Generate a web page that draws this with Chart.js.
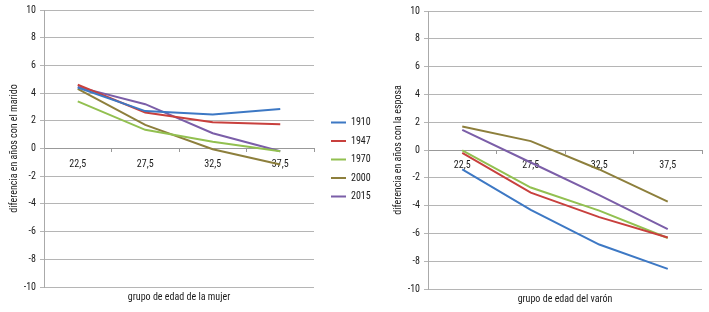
<!DOCTYPE html>
<html>
<head>
<meta charset="utf-8">
<script src="https://cdn.jsdelivr.net/npm/chart.js@4"></script>
<style>
  html, body { margin: 0; padding: 0; background: #fff; }
  #wrapL { position: absolute; left: 0; top: 0; width: 380px; height: 312px; }
  #wrapR { position: absolute; left: 380px; top: 0; width: 329px; height: 312px; }
</style>
</head>
<body>
<div id="wrapL"><canvas id="chartL" width="380" height="312"></canvas></div>
<div id="wrapR"><canvas id="chartR" width="329" height="312"></canvas></div>
<script>
const categories = ["22,5", "27,5", "32,5", "37,5"];
const years = ["1910", "1947", "1970", "2000", "2015"];
const colors = ["#3d78c4", "#c8403d", "#92c050", "#8d7f3c", "#7b5ea8"];

// diferencia en años con el marido (mujer)
const mujer1910 = [4.4, 2.7, 2.45, 2.85];
const mujer1947 = [4.6, 2.6, 1.9, 1.75];
const mujer1970 = [3.4, 1.35, 0.48, -0.2];
const mujer2000 = [4.3, 1.7, -0.05, -1.15];
const mujer2015 = [4.45, 3.2, 1.1, -0.2];

// diferencia en años con la esposa (varón)
const varon1910 = [-1.4, -4.3, -6.8, -8.55];
const varon1947 = [-0.2, -3.07, -4.83, -6.3];
const varon1970 = [-0.02, -2.7, -4.36, -6.33];
const varon2000 = [1.69, 0.64, -1.4, -3.71];
const varon2015 = [1.45, -0.9, -3.24, -5.7];

const FAMILY = "'Roboto Condensed', 'DejaVu Sans Condensed', sans-serif";
const f10 = { family: FAMILY, size: 10, weight: "normal" };
Chart.defaults.font.family = FAMILY;
Chart.defaults.font.size = 10;
Chart.defaults.color = "#1a1a1a";

function makeSets(arrs) {
  return arrs.map((d, i) => ({
    label: years[i],
    data: d,
    borderColor: colors[i],
    backgroundColor: colors[i],
    borderWidth: 2,
    pointRadius: 0,
    tension: 0,
    fill: false
  }));
}

function baseScales(yWidth, yTitle) {
  return {
    x: {
      type: "category",
      position: { y: 0 },
      offset: true,
      grid: { display: true, drawOnChartArea: false, drawTicks: true, tickLength: 3, color: "#999", offset: true },
      border: { display: true, color: "#999" },
      ticks: { padding: 6.5, color: "#1a1a1a", maxRotation: 0, font: f10 }
    },
    y: {
      min: -10, max: 10,
      afterFit: s => { s.width = yWidth; },
      grid: { color: "#b5b5b5", lineWidth: 1, tickLength: 4 },
      border: { display: true, color: "#aaa" },
      ticks: { stepSize: 2, padding: 4, color: "#1a1a1a", font: f10 },
      title: { display: true, text: yTitle, color: "#1a1a1a", font: f10, padding: { top: 4, bottom: 4 } }
    }
  };
}

// fixed legend width so the plot keeps its size
const legendWidth = {
  id: "legendWidth",
  beforeLayout(chart) {
    const lg = chart.legend;
    if (lg && !lg._fixed) {
      const fit = lg.fit;
      lg.fit = function () { fit.call(this); this.width = 57.5; };
      lg._fixed = true;
    }
  }
};

// left chart
const scalesL = baseScales(40, "diferencia en años con el marido");
scalesL.gap = {
  type: "linear", position: "right", display: true,
  afterFit: s => { s.width = 8.5; },
  grid: { display: false }, border: { display: false }, ticks: { display: false }
};
new Chart(document.getElementById("chartL"), {
  type: "line",
  plugins: [legendWidth],
  data: {
    labels: categories,
    datasets: makeSets([mujer1910, mujer1947, mujer1970, mujer2000, mujer2015])
  },
  options: {
    responsive: false,
    animation: false,
    layout: { padding: { left: 4, top: 7, right: 0, bottom: 0 } },
    scales: scalesL,
    plugins: {
      tooltip: { enabled: false },
      legend: {
        display: true,
        position: "right",
        labels: { boxWidth: 15, boxHeight: 0, padding: 8.5, color: "#1a1a1a", font: f10 }
      },
      title: {
        display: true,
        position: "bottom",
        fullSize: false,
        text: "grupo de edad de la mujer",
        color: "#1a1a1a",
        font: f10,
        padding: { top: 4, bottom: 9 }
      }
    }
  }
});

// right chart
new Chart(document.getElementById("chartR"), {
  type: "line",
  data: {
    labels: categories,
    datasets: makeSets([varon1910, varon1947, varon1970, varon2000, varon2015])
  },
  options: {
    responsive: false,
    animation: false,
    layout: { padding: { left: 8, top: 11, right: 7, bottom: 0 } },
    scales: baseScales(40, "diferencia en años con la esposa"),
    plugins: {
      tooltip: { enabled: false },
      legend: { display: false },
      title: {
        display: true,
        position: "bottom",
        fullSize: false,
        text: "grupo de edad del varón",
        color: "#1a1a1a",
        font: f10,
        padding: { top: 4, bottom: 7 }
      }
    }
  }
});
</script>
</body>
</html>
